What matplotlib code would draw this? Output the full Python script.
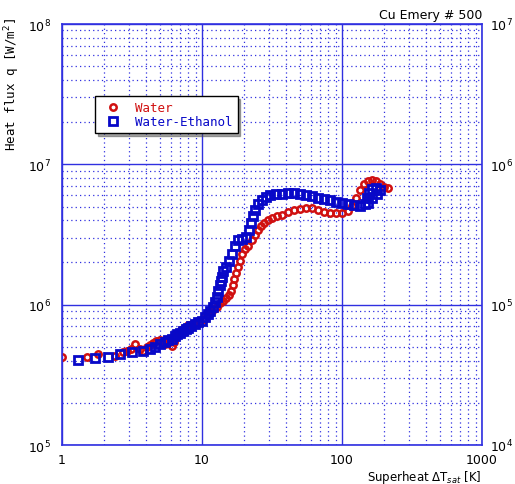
import numpy as np
import matplotlib.pyplot as plt
from matplotlib.ticker import LogLocator, NullFormatter, LogFormatterMathtext

# superheat [K] and heat flux [W/m2]
water_dT = [1.00, 1.51, 1.81, 2.39, 2.73, 2.91, 3.11, 3.32, 3.61, 3.79, 4.05, 4.25,
            4.47, 4.69, 5.01, 5.27, 5.44, 5.72, 5.91, 6.11, 6.31, 6.52, 6.74, 7.08,
            7.44, 7.94, 8.48, 9.06, 9.68, 10.3, 11.0, 11.6, 12.2, 12.8, 13.5, 14.1,
            14.8, 15.6, 16.1, 16.7, 16.9, 17.5, 18.1, 18.7, 19.3, 20.3, 21.3, 22.8,
            23.9, 25.1, 26.4, 27.7, 29.6, 31.6, 34.3, 37.3, 41.2, 45.4, 50.1, 55.3,
            61.1, 67.4, 74.4, 82.1, 90.6, 100, 110, 118, 126, 135, 144, 153,
            164, 175, 187, 200, 213]
water_q = [4.25e5, 4.25e5, 4.47e5, 4.32e5, 4.62e5, 4.69e5, 4.85e5, 5.27e5, 4.85e5, 4.69e5, 5.01e5, 5.18e5,
           5.35e5, 5.53e5, 5.62e5, 5.44e5, 5.27e5, 5.35e5, 5.53e5, 5.10e5, 5.44e5, 5.91e5, 6.31e5, 6.63e5,
           6.85e5, 7.20e5, 7.32e5, 7.56e5, 7.69e5, 7.94e5, 8.48e5, 8.91e5, 9.36e5, 9.68e5, 1.02e6, 1.07e6,
           1.12e6, 1.18e6, 1.26e6, 1.39e6, 1.53e6, 1.69e6, 1.87e6, 2.06e6, 2.31e6, 2.51e6, 2.64e6, 2.87e6,
           3.16e6, 3.38e6, 3.61e6, 3.85e6, 3.98e6, 4.12e6, 4.25e6, 4.39e6, 4.54e6, 4.69e6, 4.77e6, 4.85e6,
           4.85e6, 4.69e6, 4.54e6, 4.47e6, 4.47e6, 4.47e6, 4.62e6, 5.01e6, 5.72e6, 6.52e6, 7.20e6, 7.56e6,
           7.69e6, 7.56e6, 7.20e6, 6.85e6, 6.74e6]

mix_dT = [1.30, 1.72, 2.13, 2.60, 3.16, 3.79, 4.25, 4.62, 5.01, 5.44, 5.72, 6.11,
          6.41, 6.63, 6.96, 7.32, 7.69, 7.94, 8.35, 8.91, 9.36, 10.0, 10.5, 11.0,
          11.4, 12.0, 12.4, 12.8, 13.0, 13.5, 13.7, 13.9, 14.1, 14.8, 15.6, 16.4,
          17.2, 18.1, 19.3, 20.6, 21.7, 22.4, 23.1, 23.9, 25.1, 26.8, 28.7, 30.6,
          33.8, 37.3, 41.2, 45.4, 50.1, 55.3, 61.1, 67.4, 74.4, 82.1, 90.6, 100,
          110, 122, 135, 146, 151, 156, 164, 175, 187, 178, 164, 153]
mix_q = [4.05e5, 4.18e5, 4.25e5, 4.47e5, 4.62e5, 4.69e5, 4.85e5, 5.01e5, 5.27e5, 5.44e5, 5.62e5, 5.72e5,
         6.00e5, 6.21e5, 6.31e5, 6.52e5, 6.74e5, 6.85e5, 7.08e5, 7.32e5, 7.56e5, 7.69e5, 8.21e5, 8.63e5,
         9.06e5, 9.68e5, 1.05e6, 1.14e6, 1.26e6, 1.37e6, 1.48e6, 1.58e6, 1.75e6, 1.87e6, 2.06e6, 2.31e6,
         2.60e6, 2.87e6, 2.96e6, 3.06e6, 3.38e6, 3.79e6, 4.25e6, 4.69e6, 5.18e6, 5.53e6, 5.81e6, 6.00e6,
         6.11e6, 6.11e6, 6.21e6, 6.21e6, 6.11e6, 6.00e6, 5.91e6, 5.72e6, 5.62e6, 5.53e6, 5.35e6, 5.27e6,
         5.18e6, 5.10e6, 5.01e6, 5.18e6, 5.72e6, 6.21e6, 6.63e6, 6.74e6, 6.52e6, 6.11e6, 5.72e6, 5.27e6]

gridblue = '#3030e0'
red = '#d01010'
blue = '#0808c8'

fig = plt.figure(figsize=(5.15, 4.85), dpi=100)
ax = fig.add_axes([62/515, 39/485, 420/515, 421/485])

ax.plot(water_dT, water_q, 'o', ms=4.6, mfc='none', mec=red, mew=1.8, label='Water')
ax.plot(mix_dT, mix_q, 's', ms=5.4, mfc='none', mec=blue, mew=2.0, label='Water-Ethanol')

ax.set_xscale('log')
ax.set_yscale('log')
ax.set_xlim(1, 1000)
ax.set_ylim(1e5, 1e8)

ax.xaxis.set_minor_locator(LogLocator(subs=np.arange(2, 10)))
ax.yaxis.set_minor_locator(LogLocator(subs=np.arange(2, 10)))
ax.xaxis.set_minor_formatter(NullFormatter())
ax.yaxis.set_minor_formatter(NullFormatter())
ax.set_xticks([1, 10, 100, 1000])
ax.set_xticklabels(['1', '10', '100', '1000'])
ax.grid(True, which='major', color=gridblue, lw=1.0, ls='-')
ax.grid(True, which='minor', color=gridblue, lw=0.9, ls=(0, (1, 2.5)))
ax.set_axisbelow(True)
ax.tick_params(which='both', length=0, labelsize=9, pad=8)
ax.tick_params(axis='x', pad=6)
for s in ax.spines.values():
    s.set_color(gridblue)
    s.set_linewidth(1.2)

ax2 = ax.twinx()
ax2.set_yscale('log')
ax2.set_ylim(1e4, 1e7)
ax2.yaxis.set_major_formatter(LogFormatterMathtext())
ax2.yaxis.set_minor_formatter(NullFormatter())
ax2.tick_params(which='both', length=0, labelsize=9, pad=6)
for s in ax2.spines.values():
    s.set_visible(False)

ax.set_ylabel('Heat flux q [W/m$^2$]', fontsize=9, family='DejaVu Sans Mono')
ax.yaxis.set_label_coords(-0.095, 0.86)
ax.set_xlabel('Superheat \u0394T$_{sat}$ [K]', fontsize=8.5, ha='right')
ax.xaxis.set_label_coords(1.0, -0.054)
ax.set_title('Cu Emery # 500', fontsize=9, loc='right', pad=4)

leg = ax.legend(loc='upper left', bbox_to_anchor=(0.079, 0.829), borderaxespad=0,
                frameon=True, fancybox=False, shadow=True,
                prop={'family': 'DejaVu Sans Mono', 'size': 9},
                handletextpad=0.8, borderpad=0.4, labelspacing=0.1)
leg.get_frame().set_edgecolor('black')
leg.get_frame().set_linewidth(1.0)
for t, c in zip(leg.get_texts(), [red, blue]):
    t.set_color(c)

fig.savefig('out.png', dpi=100)
